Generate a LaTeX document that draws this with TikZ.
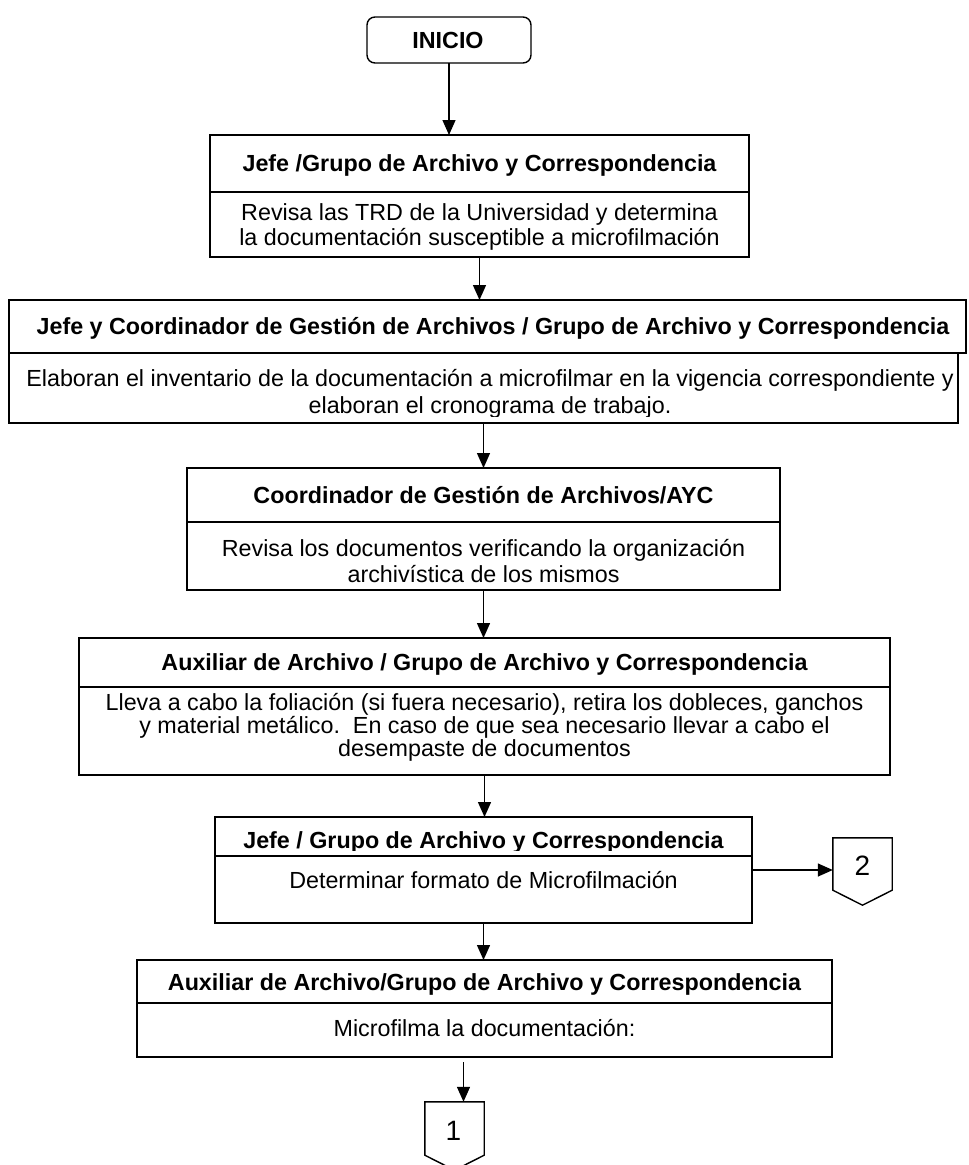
\documentclass[tikz,border=0pt]{standalone}
\usepackage{fontspec}
\setmainfont{Liberation Sans}
\usetikzlibrary{arrows.meta,calc}
\begin{document}
\begin{tikzpicture}[x=1pt,y=-1pt,
  box/.style={draw, line width=1.4pt, inner sep=0pt, outer sep=0pt},
  hd/.style={font=\fontsize{23.3}{27}\selectfont\bfseries, anchor=base, inner sep=0pt},
  tx/.style={font=\fontsize{23.3}{27}\selectfont, anchor=base, inner sep=0pt},
  num/.style={font=\fontsize{28}{30}\selectfont, inner sep=0pt},
  arr/.style={line width=1.4pt, -{Triangle[length=15pt,width=13pt]}},
  pent/.style={line width=1.4pt}]
\useasboundingbox[fill=white] (0,0) rectangle (969,1165);

% INICIO
\node[box, rounded corners=8pt, minimum width=164, minimum height=46] (inicio) at (449,40) {};
\node[hd] (tinicio) at (448,48) {INICIO};

% Box 1
\node[box, minimum width=539, minimum height=57] (b1h) at (479.5,163.5) {};
\node[box, minimum width=539, minimum height=65] (b1d) at (479.5,224.5) {};
\node[hd] (t1h) at (479.5,171) {Jefe /Grupo de Archivo y Correspondencia};
\node[tx] (t1a) at (479.5,220) {Revisa las TRD de la Universidad y determina};
\node[tx] (t1b) at (479.5,245) {la documentación susceptible a microfilmación};

% Box 2
\node[box, minimum width=957, minimum height=53] (b2h) at (487.5,326.5) {};
\node[box, minimum width=949, minimum height=70] (b2d) at (483.5,388) {};
\node[hd] (t2h) at (493,334) {Jefe y Coordinador de Gestión de Archivos / Grupo de Archivo y Correspondencia};
\node[tx] (t2a) at (490,386) {Elaboran el inventario de la documentación a microfilmar en la vigencia correspondiente y};
\begin{scope}
\clip (9,392) rectangle (958,416);
\node[tx] (t2b) at (490,413) {elaboran el cronograma de trabajo.};
\end{scope}

% Box 3
\node[box, minimum width=593, minimum height=54] (b3h) at (483.5,495) {};
\node[box, minimum width=593, minimum height=68] (b3d) at (483.5,556) {};
\node[hd] (t3h) at (483.5,503) {Coordinador de Gestión de Archivos/AYC};
\node[tx] (t3a) at (483.5,556) {Revisa los documentos verificando la organización};
\begin{scope}
\clip (187,560) rectangle (780,585);
\node[tx] (t3b) at (483.5,582) {archivística de los mismos};
\end{scope}

% Box 4
\node[box, minimum width=811, minimum height=49] (b4h) at (484.5,662.5) {};
\node[box, minimum width=811, minimum height=88] (b4d) at (484.5,731) {};
\node[hd] (t4h) at (484.5,670) {Auxiliar de Archivo / Grupo de Archivo y Correspondencia};
\node[tx] (t4a) at (484.5,710) {Lleva a cabo la foliación (si fuera necesario), retira los dobleces, ganchos};
\node[tx] (t4b) at (484.5,733) {y material metálico.\ \ En caso de que sea necesario llevar a cabo el};
\node[tx] (t4c) at (484.5,756) {desempaste de documentos};

% Box 5
\node[box, minimum width=537, minimum height=39] (b5h) at (483.5,836.5) {};
\node[box, minimum width=537, minimum height=67] (b5d) at (483.5,889.5) {};
\begin{scope}
\clip (215,817) rectangle (752,850.5);
\node[hd] (t5h) at (483.5,848) {Jefe / Grupo de Archivo y Correspondencia};
\end{scope}
\node[tx] (t5a) at (483.5,888) {Determinar formato de Microfilmación};

% Box 6
\node[box, minimum width=695, minimum height=43] (b6h) at (484.5,981.5) {};
\node[box, minimum width=695, minimum height=54] (b6d) at (484.5,1030) {};
\node[hd] (t6h) at (484.5,990) {Auxiliar de Archivo/Grupo de Archivo y Correspondencia};
\node[tx] (t6a) at (484.5,1036) {Microfilma la documentación:};

% Off-page connectors
\node[minimum width=59, minimum height=52, inner sep=0pt] (p2) at (862.5,864) {};
\draw[pent] (p2.north west) -- (p2.north east) -- (p2.south east) -- ($(p2.south)+(0,15)$) -- (p2.south west) -- cycle;
\node[num] (n2) at (862.5,866) {2};
\node[minimum width=59, minimum height=53, inner sep=0pt] (p1) at (454.5,1128.5) {};
\draw[pent] (p1.north west) -- (p1.north east) -- (p1.south east) -- ($(p1.south)+(0,15)$) -- (p1.south west) -- cycle;
\node[num] (n1) at (453.5,1131) {1};

% Connectors
\draw[arr] (inicio.south) -- (inicio.south |- b1h.north);
\draw[arr] (b1d.south) -- (b1d.south |- b2h.north);
\draw[arr] (b2d.south) -- (b2d.south |- b3h.north);
\draw[arr] (b3d.south) -- (b3d.south |- b4h.north);
\draw[arr] (b4d.south) -- (b4d.south |- b5h.north);
\draw[arr] (b5d.south) -- (b5d.south |- b6h.north);
\coordinate (c2) at ($(b5d.east |- p2.west)+(0,6)$);
\draw[arr] (c2) -- (c2 -| p2.west);
\coordinate (c1) at ($(p1.north |- b6d.south)+(9,5)$);
\draw[arr] (c1) -- (c1 |- p1.north);
\end{tikzpicture}
\end{document}
